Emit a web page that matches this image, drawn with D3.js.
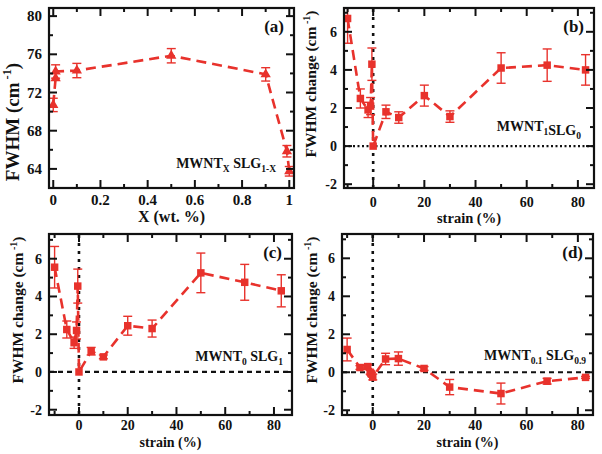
<!DOCTYPE html>
<html><head><meta charset="utf-8">
<script src="https://cdn.jsdelivr.net/npm/d3@7"></script>
<style>
html,body{margin:0;padding:0;background:#fff;}
svg text{font-family:"Liberation Serif","Times New Roman",serif;font-weight:bold;fill:#111;}
</style></head>
<body><svg id="c" width="602" height="454"></svg>
<script>
// Panel (a): MWNT_X SLG_1-X, FWHM vs X
const aX   = [0, 0.01, 0.01, 0.1, 0.5, 0.9, 0.99, 1];
const aY   = [70.7, 73.5, 74.2, 74.3, 75.85, 73.9, 65.85, 63.75];
const aErr = [0.7, 0.0, 0.7, 0.75, 0.75, 0.7, 0.6, 0.5];
const aXTicks = [0, 0.2, 0.4, 0.6, 0.8, 1];
const aXTickLabels = ["0", "0.2", "0.4", "0.6", "0.8", "1"];
const aYTicks = [64, 68, 72, 76, 80];

// Strain series (b, c, d)
const strain = [-10, -5, -2, -1, -0.5, 0, 5, 10, 20, 30, 50, 68, 83];
const bY   = [6.7, 2.5, 1.9, 2.1, 4.3, 0, 1.8, 1.5, 2.65, 1.55, 4.1, 4.25, 4.0];
const bErr = [1.3, 0.5, 0.4, 0.45, 0.85, 0, 0.35, 0.3, 0.55, 0.3, 0.8, 0.85, 0.8];
const cY   = [5.55, 2.25, 1.55, 2.2, 4.55, 0, 1.1, 0.8, 2.45, 2.3, 5.25, 4.75, 4.3];
const cErr = [1.1, 0.45, 0.3, 0.45, 0.9, 0, 0.2, 0.1, 0.5, 0.45, 1.05, 0.95, 0.85];
const dY   = [1.2, 0.25, 0.3, 0.0, -0.1, -0.25, 0.7, 0.72, 0.2, -0.78, -1.12, -0.47, -0.27];
const dErr = [0.6, 0.1, 0.1, 0.1, 0.1, 0.15, 0.3, 0.35, 0.1, 0.4, 0.55, 0.15, 0.05];
const sXTicks = [0, 20, 40, 60, 80];
const sYTicks = [-2, 0, 2, 4, 6];

const RED = "#e8322c";
const svg = d3.select("#c");

function panel(o){
  const g = svg.append("g");
  const x = d3.scaleLinear().domain(o.xd).range([o.l, o.r]);
  const y = d3.scaleLinear().domain(o.yd).range([o.b, o.t]);
  const id = "clip" + o.name;
  svg.append("clipPath").attr("id", id).append("rect")
    .attr("x", o.l).attr("y", o.t).attr("width", o.r - o.l).attr("height", o.b - o.t);

  if (o.refs){
    g.append("line").attr("x1", x(0)).attr("x2", x(0)).attr("y1", o.t + 1).attr("y2", o.b)
      .attr("stroke", "#111").attr("stroke-width", 2.6).attr("stroke-dasharray", o.vdash);
    g.append("line").attr("x1", o.l).attr("x2", o.r).attr("y1", y(0)).attr("y2", y(0))
      .attr("stroke", "#111").attr("stroke-width", 2.2).attr("stroke-dasharray", o.hdash);
  }

  const pts = o.xs.map((v, i) => ({x: v, y: o.ys[i], e: o.es[i]}));
  const pg = g.append("g").attr("clip-path", `url(#${id})`);
  pg.append("path").datum(pts)
    .attr("d", d3.line().x(d => x(d.x)).y(d => y(d.y)))
    .attr("fill", "none").attr("stroke", RED).attr("stroke-width", 2.6)
    .attr("stroke-dasharray", "10,6");
  const eb = pg.selectAll(".eb").data(pts.filter(d => d.e > 0)).enter().append("g")
    .attr("stroke", RED).attr("stroke-width", 1.4);
  eb.append("line").attr("x1", d => x(d.x)).attr("x2", d => x(d.x))
    .attr("y1", d => y(d.y - d.e)).attr("y2", d => y(d.y + d.e));
  eb.append("line").attr("x1", d => x(d.x) - 4.5).attr("x2", d => x(d.x) + 4.5)
    .attr("y1", d => y(d.y - d.e)).attr("y2", d => y(d.y - d.e));
  eb.append("line").attr("x1", d => x(d.x) - 4.5).attr("x2", d => x(d.x) + 4.5)
    .attr("y1", d => y(d.y + d.e)).attr("y2", d => y(d.y + d.e));
  const sym = d3.symbol().type(o.marker === "tri" ? d3.symbolTriangle : d3.symbolSquare)
    .size(o.marker === "tri" ? 46 : 56);
  pg.selectAll(".m").data(pts).enter().append("path")
    .attr("transform", d => `translate(${x(d.x)},${y(d.y)})`)
    .attr("d", sym).attr("fill", RED);

  const tk = g.append("g").attr("stroke", "#111");
  const xt = o.xTicks, yt = o.yTicks;
  const xMinor = d3.range(o.xMinor[0], o.xMinor[1] + 1e-9, o.xMinor[2]).filter(v => x(v) > o.l + 1 && x(v) < o.r - 1 && !xt.some(t => Math.abs(t - v) < 1e-9));
  const yMinor = d3.range(o.yMinor[0], o.yMinor[1] + 1e-9, o.yMinor[2]).filter(v => y(v) > o.t + 1 && y(v) < o.b - 1 && !yt.some(t => Math.abs(t - v) < 1e-9));
  function xtick(v, len){
    tk.append("line").attr("x1", x(v)).attr("x2", x(v)).attr("y1", o.b).attr("y2", o.b - len).attr("stroke-width", 2);
    tk.append("line").attr("x1", x(v)).attr("x2", x(v)).attr("y1", o.t).attr("y2", o.t + len).attr("stroke-width", 2);
  }
  function ytick(v, len){
    tk.append("line").attr("y1", y(v)).attr("y2", y(v)).attr("x1", o.l).attr("x2", o.l + len).attr("stroke-width", 2);
    tk.append("line").attr("y1", y(v)).attr("y2", y(v)).attr("x1", o.r).attr("x2", o.r - len).attr("stroke-width", 2);
  }
  xt.forEach(v => xtick(v, 8)); xMinor.forEach(v => xtick(v, 4));
  yt.forEach(v => ytick(v, 8)); yMinor.forEach(v => ytick(v, 4));

  g.append("rect").attr("x", o.l).attr("y", o.t).attr("width", o.r - o.l).attr("height", o.b - o.t)
    .attr("fill", "none").attr("stroke", "#111").attr("stroke-width", 2.2);

  g.selectAll(".xl").data(xt).enter().append("text")
    .attr("x", d => x(d)).attr("y", o.b + o.xlOff).attr("text-anchor", "middle")
    .attr("font-size", o.tickFs).text((d, i) => o.xLabels ? o.xLabels[i] : d);
  g.selectAll(".yl").data(yt).enter().append("text")
    .attr("x", o.l - 7).attr("y", d => y(d) + 5).attr("text-anchor", "end")
    .attr("font-size", o.tickFs).text(d => d);

  g.append("text").attr("x", (o.l + o.r) / 2).attr("y", o.b + o.xtOff).attr("text-anchor", "middle")
    .attr("font-size", o.xtFs).text(o.xTitle);
  const ytt = g.append("text").attr("transform", `translate(${o.yTitleX},${o.yTitleY}) rotate(-90)`)
    .attr("text-anchor", "middle").attr("font-size", o.ytFs);
  ytt.append("tspan").text(o.yTitle + " (cm");
  ytt.append("tspan").attr("dy", -o.ytFs * 0.42).attr("font-size", o.ytFs * 0.65).text(" -1");
  ytt.append("tspan").attr("dy", o.ytFs * 0.42).text(")");

  g.append("text").attr("x", o.r - 10).attr("y", o.t + 24).attr("text-anchor", "end")
    .attr("font-size", 17).text(o.letter);

  const sl = g.append("text").attr("x", o.lx).attr("y", o.ly).attr("text-anchor", "end").attr("font-size", 14);
  o.label.forEach(p => {
    sl.append("tspan").text(p[0]);
    sl.append("tspan").attr("dy", 4).attr("font-size", 9.5).text(p[1]);
    sl.append("tspan").attr("dy", -4).text(p[2]);
  });
}

panel({name:"a", l:49, r:294, t:8, b:188, xd:[-0.018, 1.02], yd:[62.0, 80.85],
  xs:aX, ys:aY, es:aErr, marker:"tri", refs:false,
  xTicks:aXTicks, xLabels:aXTickLabels, yTicks:aYTicks, xMinor:[0.1, 0.9, 0.2], yMinor:[62, 80, 2],
  tickFs:15, xlOff:17, xtOff:34, xtFs:16,
  xTitle:"X (wt. %)", yTitle:"FWHM", yTitleX:19, yTitleY:122, ytFs:19, letter:"(a)",
  lx:276, ly:168, label:[["MWNT","X"," "],["SLG","1-X",""]]});

panel({name:"b", l:344, r:594, t:8, b:188, xd:[-11.4, 86.3], yd:[-2.2, 7.25],
  xs:strain, ys:bY, es:bErr, marker:"sq", refs:true, vdash:"3,5", hdash:"2,2.5",
  xTicks:sXTicks, yTicks:sYTicks, xMinor:[-10, 90, 10], yMinor:[-2, 7, 1],
  tickFs:14, xlOff:19, xtOff:35, xtFs:14.5,
  xTitle:"strain (%)", yTitle:"FWHM change", yTitleX:316, yTitleY:84, ytFs:15.5, letter:"(b)",
  lx:581, ly:131, label:[["MWNT","1",""],["SLG","0",""]]});

panel({name:"c", l:49, r:292, t:234, b:415, xd:[-12.3, 87.4], yd:[-2.28, 7.31],
  xs:strain, ys:cY, es:cErr, marker:"sq", refs:true, vdash:"3,5", hdash:"5,4",
  xTicks:sXTicks, yTicks:sYTicks, xMinor:[-10, 90, 10], yMinor:[-2, 7, 1],
  tickFs:14, xlOff:15, xtOff:32, xtFs:14,
  xTitle:"strain (%)", yTitle:"FWHM change", yTitleX:23, yTitleY:310, ytFs:15.5, letter:"(c)",
  lx:283, ly:361, label:[["MWNT","0"," "],["SLG","1",""]]});

panel({name:"d", l:342, r:593, t:234, b:415, xd:[-12.0, 85.9], yd:[-2.25, 7.28],
  xs:strain, ys:dY, es:dErr, marker:"sq", refs:true, vdash:"3,5", hdash:"5,4",
  xTicks:sXTicks, yTicks:sYTicks, xMinor:[-10, 90, 10], yMinor:[-2, 7, 1],
  tickFs:14, xlOff:15, xtOff:32, xtFs:14,
  xTitle:"strain (%)", yTitle:"FWHM change", yTitleX:317, yTitleY:310, ytFs:15.5, letter:"(d)",
  lx:586, ly:360, label:[["MWNT","0.1"," "],["SLG","0.9",""]]});
</script></body></html>
